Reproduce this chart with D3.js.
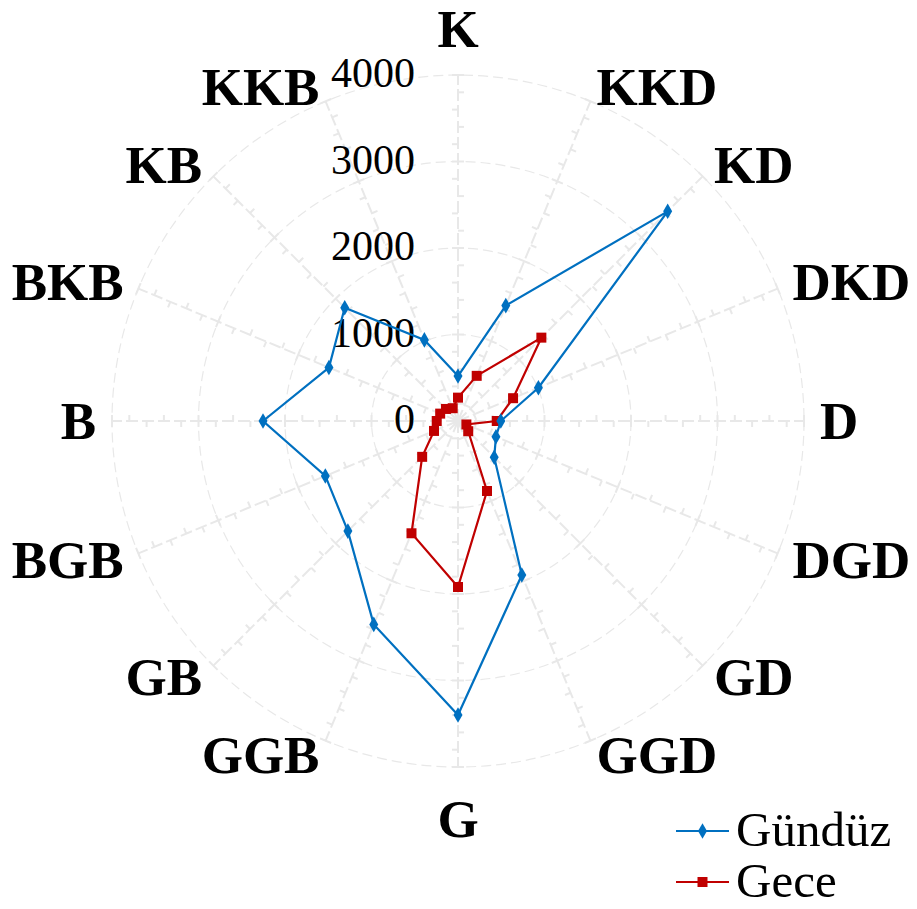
<!DOCTYPE html>
<html>
<head>
<meta charset="utf-8">
<script src="https://cdn.jsdelivr.net/npm/d3@7"></script>
<style>
  html, body { margin: 0; padding: 0; background: #fff; }
  svg { display: block; }
  text { font-family: "Liberation Serif", "Times New Roman", serif; }
</style>
</head>
<body>
<svg id="chart" width="917" height="909"></svg>
<script>
const directions = ["K","KKD","KD","DKD","D","DGD","GD","GGD","G","GGB","GB","BGB","B","BKB","KB","KKB"];
const gunduz = [520, 1444, 3428, 1006, 495, 475, 592, 1928, 3399, 2545, 1800, 1660, 2254, 1615, 1852, 1015];
const gece   = [270, 565, 1363, 689, 448, 105, 167, 876, 1919, 1405, 586, 300, 246, 223, 197, 160];
const ringTicks = [0, 1000, 2000, 3000, 4000];
const seriesNames = ["Gündüz", "Gece"];

const width = 917, height = 909;
const cx = 458, cy = 421;
const svg = d3.select("#chart");
svg.append("rect").attr("width", width).attr("height", height).attr("fill", "#fff");

const r = d3.scaleLinear().domain([0, 4000]).range([0, 346]);
const ang = d3.scalePoint().domain(directions).range([0, 2 * Math.PI * (15 / 16)]);
const g = svg.append("g").attr("transform", `translate(${cx},${cy})`);

const pt = (a, rad) => [rad * Math.sin(a), -rad * Math.cos(a)];
const gridColor = "#e8e8e8";

// rings
g.selectAll("circle.ring").data(ringTicks.filter(d => d > 0)).enter()
  .append("circle").attr("class", "ring")
  .attr("r", d => r(d)).attr("fill", "none")
  .attr("stroke", gridColor).attr("stroke-width", 1.2)
  .attr("stroke-dasharray", "10,5");

// spokes with tick marks
const spokeG = g.append("g");
directions.forEach(dname => {
  const a = ang(dname);
  const [x2, y2] = pt(a, r(4000));
  spokeG.append("line").attr("x1", 0).attr("y1", 0).attr("x2", x2).attr("y2", y2)
    .attr("stroke", gridColor).attr("stroke-width", 2).attr("stroke-dasharray", "12,4");
  const minor = d3.range(200, 4001, 200);
  minor.forEach((v, i) => {
    const [px, py] = pt(a, r(v));
    const nx = Math.cos(a), ny = Math.sin(a);
    const major = v % 1000 === 0;
    const len = 6;
    const side = (i % 2 === 0) ? 1 : -1;
    spokeG.append("line")
      .attr("x1", px + (major ? -len : 0) * nx).attr("y1", py + (major ? -len : 0) * ny)
      .attr("x2", px + (major ? len : len * side) * nx).attr("y2", py + (major ? len : len * side) * ny)
      .attr("stroke", gridColor).attr("stroke-width", 2);
  });
});

// tick labels
g.selectAll("text.tick").data(ringTicks).enter().append("text")
  .attr("class", "tick")
  .attr("x", -43).attr("y", d => -r(d) - 2)
  .attr("text-anchor", "end").attr("dominant-baseline", "central")
  .attr("font-size", 42).attr("fill", "#000")
  .text(d => d);

// category labels
const labelR = 362;
directions.forEach(dname => {
  const a = ang(dname);
  const [px, py] = pt(a, labelR);
  const s = Math.sin(a), c = Math.cos(a);
  let anchor = "middle", baseline = "central", yy = py;
  if (s > 0.1) anchor = "start";
  else if (s < -0.1) anchor = "end";
  else if (c > 0) { baseline = "auto"; yy = py - 12; }
  else { baseline = "hanging"; yy = py + 16; }
  g.append("text").attr("x", px).attr("y", yy)
    .attr("text-anchor", anchor).attr("dominant-baseline", baseline)
    .attr("font-size", 53).attr("font-weight", "bold").attr("fill", "#000")
    .text(dname);
});

// series
const lineGen = d3.lineRadial()
  .angle((d, i) => ang(directions[i]))
  .radius(d => r(d))
  .curve(d3.curveLinearClosed);

const series = [
  { name: seriesNames[0], values: gunduz, color: "#0070C0", shape: d3.symbolDiamond, size: 70 },
  { name: seriesNames[1], values: gece, color: "#C00000", shape: d3.symbolSquare, size: 100 }
];

series.slice().reverse().forEach(s => {
  g.append("path").attr("d", lineGen(s.values)).attr("fill", "none")
    .attr("stroke", s.color).attr("stroke-width", 2.2);
  s.values.forEach((v, i) => {
    const [x, y] = pt(ang(directions[i]), r(v));
    g.append("path").attr("d", d3.symbol().type(s.shape).size(s.size)())
      .attr("transform", `translate(${x},${y})`).attr("fill", s.color);
  });
});

// legend
const leg = svg.append("g");
series.forEach((s, i) => {
  const y = 831 + i * 51;
  leg.append("line").attr("x1", 676).attr("x2", 729).attr("y1", y).attr("y2", y)
    .attr("stroke", s.color).attr("stroke-width", 2.2);
  leg.append("path").attr("d", d3.symbol().type(s.shape).size(s.size)())
    .attr("transform", `translate(702.5,${y})`).attr("fill", s.color);
  leg.append("text").attr("x", 736).attr("y", y + 15)
    .attr("font-size", 49).attr("fill", "#000").text(s.name);
});
</script>
</body>
</html>
